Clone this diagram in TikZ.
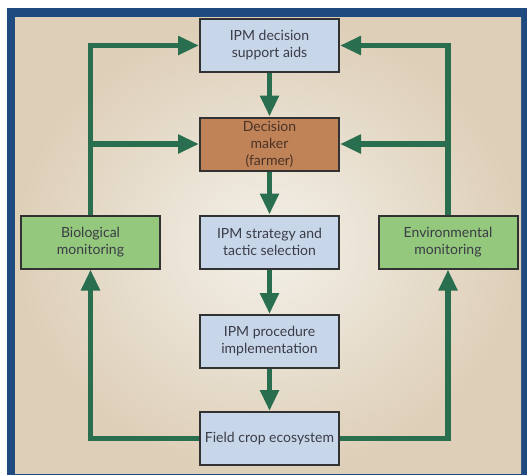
\documentclass[tikz,border=0pt]{standalone}
\usepackage{fontspec}
\setmainfont{Lato}
\usetikzlibrary{positioning,calc,arrows.meta}
\definecolor{frameblue}{RGB}{31,74,128}
\definecolor{paperdark}{RGB}{222,207,184}
\definecolor{paperlight}{RGB}{243,240,232}
\definecolor{boxblue}{RGB}{200,214,234}
\definecolor{boxbrown}{RGB}{192,131,88}
\definecolor{boxgreen}{RGB}{148,200,124}
\definecolor{arrowgreen}{RGB}{42,110,80}
\definecolor{boxline}{RGB}{50,50,50}
\definecolor{textgray}{RGB}{58,60,70}
\tikzset{
	box/.style={draw=boxline, line width=2pt, fill=boxblue, align=center, text=textgray,
		minimum width=139pt, minimum height=53pt, inner sep=1pt,
		font=\fontsize{14}{17}\selectfont},
	flow/.style={-{Triangle[length=21pt,width=18pt]}, line width=5.5pt, draw=arrowgreen}
}

\begin{document}
\begin{tikzpicture}[x=1pt, y=-1pt]
	\useasboundingbox (0,0) rectangle (530,475);
	% frame and background
	\fill[frameblue] (7,8) rectangle (527,475);
	\shade[inner color=paperlight, outer color=paperdark] (15,17) rectangle (521,473);

	\node[box] (aids) at (269.5,45.5) {IPM decision\\support aids};
	\node[box, fill=boxbrown, text={rgb,255:red,74;green,50;blue,38}] (maker) at (269.5,144) {Decision\\maker\\(farmer)};
	\node[box] (tactic) at (269.5,242) {IPM strategy and\\tactic selection};
	\node[box, fill=boxgreen] (biomon) at (90.5,242) {Biological\\monitoring};
	\node[box, fill=boxgreen] (envmon) at (448,242) {Environmental\\monitoring};
	\node[box] (implement) at (269.5,341.5) {IPM procedure\\implementation};
	\node[box] (field) at (269.5,438.5) {Field crop ecosystem};

	% main chain
	\draw[flow] (aids) -- (maker);
	\draw[flow] (maker) -- (tactic);
	\draw[flow] (tactic) -- (implement);
	\draw[flow] (implement) -- (field);

	% feedback loops
	\draw[flow] (field.west) -| (biomon.south);
	\draw[flow] (field.east) -| (envmon.south);
	\draw[flow] (biomon.north) |- (aids.west);
	\draw[flow] (envmon.north) |- (aids.east);
	\draw[flow] (biomon.north |- maker.west) -- (maker.west);
	\draw[flow] (envmon.north |- maker.east) -- (maker.east);
\end{tikzpicture}
\end{document}
